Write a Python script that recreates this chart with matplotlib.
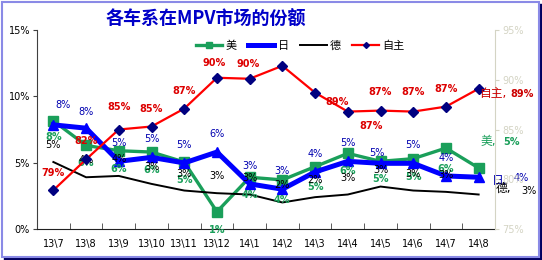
import matplotlib
matplotlib.use('Agg')
import matplotlib.pyplot as plt
from matplotlib.patches import Rectangle
from matplotlib.lines import Line2D
import numpy as np

plt.rcParams['font.family'] = ['DejaVu Sans', 'Noto Sans CJK SC']

# data
months = ['13\\7', '13\\8', '13\\9', '13\\10', '13\\11', '13\\12', '14\\1',
          '14\\2', '14\\3', '14\\4', '14\\5', '14\\6', '14\\7', '14\\8']
us = [8.15, 6.3, 5.9, 5.8, 5.05, 1.3, 3.9, 3.7, 4.7, 5.7, 5.1, 5.3, 6.1, 4.6]
jp = [7.85, 7.6, 5.1, 5.4, 4.98, 5.8, 3.4, 3.0, 4.3, 5.1, 4.95, 4.95, 4.0, 3.9]
de = [5.05, 3.9, 4.0, 3.4, 2.9, 2.7, 2.6, 2.0, 2.4, 2.6, 3.2, 2.9, 2.8, 2.6]
own = [78.9, 82.0, 85.0, 85.3, 87.1, 90.2, 90.1, 91.4, 88.7, 86.8, 86.9, 86.8, 87.3, 89.1]
names = ['美', '日', '德', '自主']
left_ticks = [0, 5, 10, 15]
right_ticks = [75, 80, 85, 90, 95]

green = '#1a9f5a'
blue = '#0000ff'
navy = '#000080'
red = '#ff0000'
pale = '#d4d4c4'

W, H = 542, 260
fig = plt.figure(figsize=(W / 100, H / 100), dpi=100)

# frame with shadow
bg = fig.add_axes([0, 0, 1, 1], zorder=-5)
bg.set_xlim(0, W)
bg.set_ylim(0, H)
bg.axis('off')
bg.add_patch(Rectangle((4, 0), W - 4, H - 4, color='#000060'))
bg.add_patch(Rectangle((1.5, 3.5), W - 5, H - 5, facecolor='white', edgecolor='#8a8ae6', lw=1.5))

ax = fig.add_axes([37 / W, 31 / H, 458 / W, 199 / H])
ax.patch.set_alpha(0)
x = np.arange(len(months))

ax.plot(x, us, color=green, lw=2.4, marker='s', ms=6.5, zorder=3)
ax.plot(x, jp, color=blue, lw=3.6, marker='^', ms=6.5, zorder=3)
ax.plot(x, de, color='black', lw=1.4, zorder=3)

ax.set_xlim(-0.5, len(months) - 0.5)
ax.set_ylim(0, 15)
ax.set_yticks(left_ticks)
ax.set_yticklabels(['%d%%' % v for v in left_ticks], fontsize=7)
ax.set_xticks(x)
ax.set_xticklabels(months, fontsize=7)
ax.set_xticks(np.arange(0.5, len(months) - 1, 1), minor=True)
ax.tick_params(axis='x', which='major', length=0, pad=7)
ax.tick_params(axis='x', which='minor', direction='in', length=4, color='#404040')
ax.tick_params(axis='y', direction='out', length=3, color='#404040', pad=2)
for s in ['top', 'right']:
    ax.spines[s].set_visible(False)
ax.spines['left'].set_color('#404040')
ax.spines['bottom'].set_color('#202020')

ax2 = ax.twinx()
ax2.plot(x, own, color=red, lw=1.6, marker='D', ms=5, mfc=navy, mec=navy, zorder=3)
ax2.set_ylim(75, 95)
ax2.set_yticks(right_ticks)
ax2.set_yticklabels(['%d%%' % v for v in right_ticks], fontsize=7, color=pale)
ax2.tick_params(axis='y', direction='out', length=3, color=pale, pad=2)
for s in ['top', 'left', 'bottom']:
    ax2.spines[s].set_visible(False)
ax2.spines['right'].set_color(pale)


def put_labels(a, vals, color, weight, dflt, special, skip=()):
    for i, v in enumerate(vals[:-1]):
        if i in skip:
            continue
        dx, dy = special.get(i, dflt)
        a.annotate('%d%%' % round(v), (i, v), xytext=(dx, dy), textcoords='offset pixels',
                   ha='center', va='center', fontsize=7, color=color, weight=weight, zorder=4)


put_labels(ax, us, green, 'bold', (0, -18), {0: (0, -16), 7: (0, -20), 8: (0, -20), 12: (0, -21)})
put_labels(ax, jp, '#0000b0', 'normal', (0, 18), {0: (10, 20), 1: (0, 16), 10: (-4, 10)})
put_labels(ax, de, 'black', 'normal', (0, 17), {})
# the 14\2 label sits under the legend in the original, so it is left out
put_labels(ax2, own, '#dd0000', 'bold', (0, 18),
           {0: (0, 17), 2: (0, 22), 5: (-3, 15), 6: (-2, 15), 8: (22, -9), 9: (23, -14),
            10: (0, 19), 11: (0, 20)}, skip=(7,))

# series name + value at the end of each line
last = len(months) - 1
ends = [(ax, us, green, 'bold', (2, 26), (33, 26)),
        (ax, jp, '#0000b0', 'normal', (13, -3), (43, -1)),
        (ax, de, 'black', 'normal', (17, 6), (50, 4)),
        (ax2, own, '#cc0000', 'bold', (0, -5), (43, -5))]
for (a, vals, c, wt, pn, pv), nm in zip(ends, names):
    a.annotate(nm + ',', (last, vals[-1]), xytext=pn, textcoords='offset pixels',
               ha='left', va='center', fontsize=8.5, color=c, annotation_clip=False, zorder=4)
    a.annotate('%d%%' % round(vals[-1]), (last, vals[-1]), xytext=pv, textcoords='offset pixels',
               ha='center', va='center', fontsize=7, color=c, weight=wt, annotation_clip=False, zorder=4)

handles = [Line2D([], [], color=green, lw=2.4, marker='s', ms=4.5),
           Line2D([], [], color=blue, lw=3.6),
           Line2D([], [], color='black', lw=1.4),
           Line2D([], [], color=red, lw=1.6, marker='D', ms=3, mfc=navy, mec=navy)]
leg = ax2.legend(handles, names, loc='center', bbox_to_anchor=((300 - 37) / 458, (229 - 46) / 199),
                 ncol=4, fontsize=8, frameon=True, framealpha=1, edgecolor='none', facecolor='white',
                 handlelength=2.4, handletextpad=0.3, columnspacing=1.0, borderpad=0.5, fancybox=False)
leg.set_zorder(10)

fig.text(206 / W, 1 - 19 / H, '各车系在MPV市场的份额', color='#0000c8', fontsize=13,
         weight='bold', style='italic', family=['Noto Sans CJK SC'], ha='center', va='center')

fig.savefig('out.png', dpi=100)
